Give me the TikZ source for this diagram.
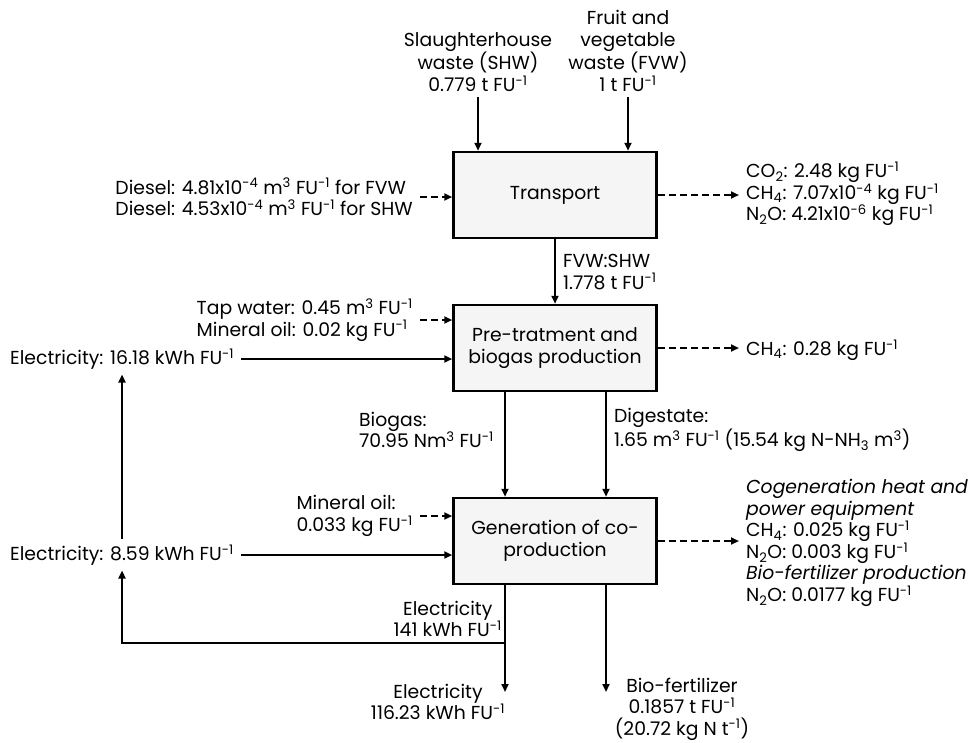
\documentclass[tikz,border=0pt]{standalone}
\usepackage{fontspec}
\setmainfont{Poppins}
\usetikzlibrary{arrows.meta, positioning}
\tikzstyle{process} = [rectangle, minimum width=203pt, minimum height=86pt, align=center, line width=2.5pt, draw=black, fill=gray!8]
\tikzstyle{info} = [inner xsep=7pt, inner ysep=5pt, align=left]
\tikzstyle{flow} = [line width=2.2pt, -{Stealth[length=8pt, width=7pt, inset=0pt]}]
\tikzstyle{aux} = [flow, dash pattern=on 7pt off 4pt]
\newcommand{\fu}{FU\textsuperscript{-1}}

\begin{document}
\begin{tikzpicture}[x=1pt, y=-1pt, node distance=153pt, font=\fontsize{18.8}{21.5}\selectfont]
\useasboundingbox (0,0) rectangle (969,742);
\node (transport) [process] at (555,195) {Transport};
\node (pretreat) [process, below of=transport] {Pre-tratment and\\biogas production};
\node (cogen) [process, below of=pretreat, yshift=-40pt] {Generation of co-\\production};
\node (shw) [info, align=center] at (478,62) {Slaughterhouse\\waste (SHW)\\0.779 t \fu};
\node (fvw) [info, align=center] at (628,51) {Fruit and\\vegetable\\waste (FVW)\\1 t \fu};
\node (diesel) [info, anchor=east] at (420,197) {Diesel: 4.81x10\textsuperscript{-4} m\textsuperscript{3} \fu{} for FVW\\Diesel: 4.53x10\textsuperscript{-4} m\textsuperscript{3} \fu{} for SHW};
\node (emTransport) [info, anchor=west] at (739,194) {CO\textsubscript{2}: 2.48 kg \fu\\CH\textsubscript{4}: 7.07x10\textsuperscript{-4} kg \fu\\N\textsubscript{2}O: 4.21x10\textsuperscript{-6} kg \fu};
\node (mix) [info, anchor=west] at (556,272) {FVW:SHW\\1.778 t \fu};
\node (water) [info, anchor=east] at (420,320) {Tap water: 0.45 m\textsuperscript{3} \fu\\Mineral oil: 0.02 kg \fu};
\node (elecPre) [info, anchor=west] at (3,359) {Electricity: 16.18 kWh \fu};
\node (emPre) [info, anchor=west] at (739,350) {CH\textsubscript{4}: 0.28 kg \fu};
\node (biogas) [info, anchor=west] at (352,430) {Biogas:\\70.95 Nm\textsuperscript{3} \fu};
\node (digestate) [info, anchor=west] at (607,430) {Digestate:\\1.65 m\textsuperscript{3} \fu{} (15.54 kg N-NH\textsubscript{3} m\textsuperscript{3})};
\node (oil) [info, anchor=east] at (420,516) {Mineral oil:\\0.033 kg \fu};
\node (elecGen) [info, anchor=west] at (3,555) {Electricity: 8.59 kWh \fu};
\node (emGen) [info, anchor=west] at (739,543) {\textit{Cogeneration heat and}\\\textit{power equipment}\\CH\textsubscript{4}: 0.025 kg \fu\\N\textsubscript{2}O: 0.003 kg \fu\\\textit{Bio-fertilizer production}\\N\textsubscript{2}O: 0.0177 kg \fu};
\node (elecTotal) [info, align=center, anchor=east] at (509,619) {Electricity\\141 kWh \fu};
\node (elecRes) [info, align=center] at (438,702) {Electricity\\116.23 kWh \fu};
\node (bioRes) [info, align=center] at (682,709) {Bio-fertilizer\\0.1857 t \fu\\(20.72 kg N t\textsuperscript{-1})};
\coordinate (eOut) at (505,692);
\coordinate (fOut) at (606,692);
\coordinate (split) at (505,643);

\draw[flow] (shw.south) -- (shw.south |- transport.north);
\draw[flow] (fvw.south) -- (fvw.south |- transport.north);
\draw[aux] (diesel.east) -- (diesel.east -| transport.west);
\draw[aux] (transport.east) -- (transport.east -| emTransport.west);
\draw[flow] (transport) -- (pretreat);
\draw[aux] (water.east) -- (water.east -| pretreat.west);
\draw[flow] (elecPre.east) -- (elecPre.east -| pretreat.west);
\draw[aux] (pretreat.east) -- (pretreat.east -| emPre.west);
\draw[flow] (pretreat.south -| eOut) -- (cogen.north -| eOut);
\draw[flow] (pretreat.south -| fOut) -- (cogen.north -| fOut);
\draw[aux] (oil.east) -- (oil.east -| cogen.west);
\draw[flow] (elecGen.east) -- (elecGen.east -| cogen.west);
\draw[flow] (elecGen.north) -- (elecGen.north |- elecPre.south);
\draw[aux] (cogen.east) -- (cogen.east -| emGen.west);
\draw[flow] (cogen.south -| eOut) -- (eOut);
\draw[flow] (cogen.south -| fOut) -- (fOut);
\draw[flow] (split) -| (elecGen.south);

\end{tikzpicture}
\end{document}
